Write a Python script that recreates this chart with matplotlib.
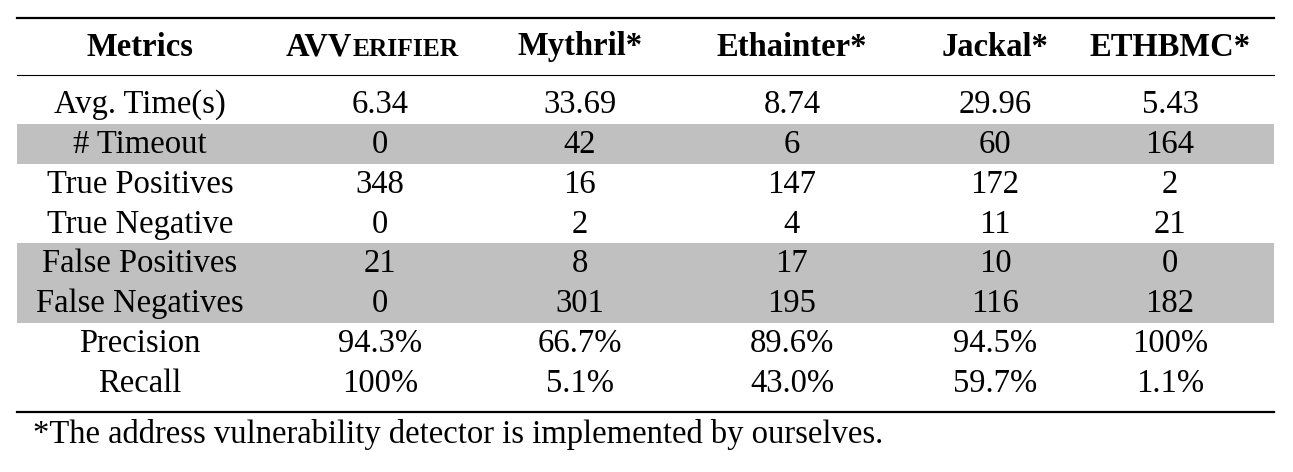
import matplotlib
matplotlib.use("Agg")
import matplotlib.pyplot as plt
from matplotlib.patches import Rectangle

metrics = ["Avg. Time(s)", "# Timeout", "True Positives", "True Negative",
           "False Positives", "False Negatives", "Precision", "Recall"]
tools = ["AVVERIFIER", "Mythril*", "Ethainter*", "Jackal*", "ETHBMC*"]
avverifier = ["6.34", "0", "348", "0", "21", "0", "94.3%", "100%"]
mythril = ["33.69", "42", "16", "2", "8", "301", "66.7%", "5.1%"]
ethainter = ["8.74", "6", "147", "4", "17", "195", "89.6%", "43.0%"]
jackal = ["29.96", "60", "172", "11", "10", "116", "94.5%", "59.7%"]
ethbmc = ["5.43", "164", "2", "21", "0", "182", "100%", "1.1%"]
shaded = [1, 4, 5]
footnote = "*The address vulnerability detector is implemented by ourselves."

cols = [avverifier, mythril, ethainter, jackal, ethbmc]
W, H = 1293, 472
fig = plt.figure(figsize=(W/100, H/100), dpi=100)
ax = fig.add_axes([0, 0, 1, 1])
ax.set_xlim(0, W); ax.set_ylim(H, 0); ax.axis("off")
fam = "Liberation Serif"
fs = 23.5
xs = [140, 380, 580, 792, 995, 1170]
L, R = 17, 1274
row0, dy = 104, 39.8

for i in shaded:
    ax.add_patch(Rectangle((L, row0 + i*dy - dy/2), R-L, dy, color="#c0c0c0", lw=0))

ax.plot([L, R], [18, 18], color="black", lw=1.6)
ax.plot([L, R], [75, 75], color="black", lw=0.8)
ax.plot([L, R], [412, 412], color="black", lw=1.6)

hy = 47
ax.text(xs[0], hy, "Metrics", fontfamily=fam, fontsize=fs, fontweight="bold", ha="center", va="center")
t1 = ax.text(286, hy + 9, "AVV", fontfamily=fam, fontsize=fs, fontweight="bold", ha="left", va="baseline")
fig.canvas.draw()
bb = t1.get_window_extent()
x1 = ax.transData.inverted().transform((bb.x1, 0))[0]
ax.text(x1, hy + 9, "ERIFIER", fontfamily=fam, fontsize=fs*0.78, fontweight="bold", ha="left", va="baseline")
for x, t in zip(xs[2:], tools[1:]):
    ax.text(x, hy, t, fontfamily=fam, fontsize=fs, fontweight="bold", ha="center", va="center")

for r, m in enumerate(metrics):
    y = row0 + r*dy + 1
    ax.text(xs[0], y, m, fontfamily=fam, fontsize=fs, ha="center", va="center")
    for c, col in enumerate(cols):
        ax.text(xs[c+1], y, col[r], fontfamily=fam, fontsize=fs, ha="center", va="center")

ax.text(33, 435, footnote, fontfamily=fam, fontsize=fs, ha="left", va="center")
fig.savefig("out.png", dpi=100)
